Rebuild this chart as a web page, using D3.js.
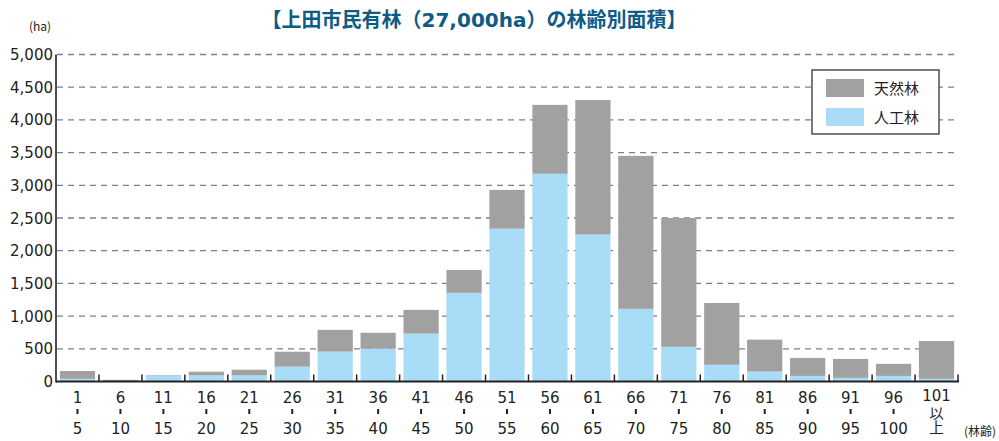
<!DOCTYPE html>
<html><head><meta charset="utf-8">
<script src="https://cdn.jsdelivr.net/npm/d3@7"></script>
<style>
body{margin:0;background:#fff;}
text{font-family:"DejaVu Sans","Noto Sans CJK JP",sans-serif;}
.cjk{font-family:"Noto Sans CJK JP",sans-serif;}
</style></head>
<body><svg id="c" width="999" height="441"></svg>
<script>
const topLabels = ["1","6","11","16","21","26","31","36","41","46","51","56","61","66","71","76","81","86","91","96","101"];
const midLabels = ["-","-","-","-","-","-","-","-","-","-","-","-","-","-","-","-","-","-","-","-","以"];
const bottomLabels = ["5","10","15","20","25","30","35","40","45","50","55","60","65","70","75","80","85","90","95","100","上"];
const planted = [40,5,90,90,90,225,455,500,730,1355,2335,3175,2245,1110,530,255,150,85,55,85,40];
const natural = [120,20,10,60,90,230,335,245,365,350,595,1055,2060,2340,1970,945,490,275,290,185,580];
const yTicks = [0,500,1000,1500,2000,2500,3000,3500,4000,4500,5000];
const seriesNames = ["天然林","人工林"];
const colors = {natural:"#a0a1a0", planted:"#a9dcf7"};

const svg = d3.select("#c");
const mLeft = 56, mRight = 958, mBottom = 381.5, mTop = 54.5;
const x = d3.scaleBand().domain(topLabels).range([mLeft, mRight]).paddingInner(0.18).paddingOuter(0.09);
const y = d3.scaleLinear().domain([0,5000]).range([mBottom, mTop]);

// title
svg.append("text").attr("x",474).attr("y",27).attr("text-anchor","middle")
  .attr("font-size",20).attr("font-weight","bold").attr("fill","#0e5b86")
  .text("【上田市民有林（27,000ha）の林齢別面積】");
svg.append("text").attr("class","cjk").attr("x",40).attr("y",31).attr("text-anchor","middle")
  .attr("font-size",12).attr("fill","#222").text("(ha)");

// grid
svg.append("g").selectAll("line").data(yTicks.filter(d=>d>0)).join("line")
  .attr("x1",mLeft+1).attr("x2",mRight).attr("y1",d=>y(d)).attr("y2",d=>y(d))
  .attr("stroke","#808080").attr("stroke-width",1.3).attr("stroke-dasharray","6,5");

// y labels
svg.append("g").selectAll("text").data(yTicks).join("text")
  .attr("x",53).attr("y",d=>y(d)+5.5).attr("text-anchor","end")
  .attr("font-size",15).attr("fill","#222").text(d=>d3.format(",")(d));

// bars
const g = svg.append("g");
topLabels.forEach((c,i)=>{
  g.append("rect").attr("x",x(c)).attr("width",x.bandwidth())
    .attr("y",y(planted[i]+natural[i])).attr("height",y(planted[i])-y(planted[i]+natural[i]))
    .attr("fill",colors.natural);
  g.append("rect").attr("x",x(c)).attr("width",x.bandwidth())
    .attr("y",y(planted[i])).attr("height",mBottom-y(planted[i]))
    .attr("fill",colors.planted);
});

// axes
svg.append("line").attr("x1",mLeft).attr("x2",mLeft).attr("y1",mTop).attr("y2",mBottom+1)
  .attr("stroke","#222").attr("stroke-width",1.6);
svg.append("line").attr("x1",mLeft).attr("x2",mRight+1).attr("y1",mBottom).attr("y2",mBottom)
  .attr("stroke","#222").attr("stroke-width",2);
const step = x.step();
svg.append("g").selectAll("line").data(d3.range(1, topLabels.length+1)).join("line")
  .attr("x1",i=>mLeft+i*step).attr("x2",i=>mLeft+i*step)
  .attr("y1",mBottom-7).attr("y2",mBottom)
  .attr("stroke","#222").attr("stroke-width",1.5);

// x labels
const cx = c => x(c)+x.bandwidth()/2;
const isNum = s => /[0-9]/.test(s);
svg.append("g").selectAll("text").data(topLabels).join("text")
  .attr("x",cx).attr("y",(c,i)=>isNum(bottomLabels[i])?403:401).attr("text-anchor","middle")
  .attr("font-size",15).attr("fill","#222").text(d=>d);
topLabels.forEach((c,i)=>{
  if (midLabels[i]==="-") {
    svg.append("rect").attr("x",cx(c)-1).attr("y",409).attr("width",2).attr("height",5).attr("fill","#222");
    svg.append("text").attr("x",cx(c)).attr("y",434).attr("text-anchor","middle")
      .attr("font-size",15).attr("fill","#222").text(bottomLabels[i]);
  } else {
    // stacked vertical text (e.g. 以上)
    svg.append("text").attr("class","cjk").attr("x",cx(c)).attr("y",406)
      .attr("writing-mode","tb").attr("font-size",14.5).attr("fill","#222")
      .text(midLabels[i] + bottomLabels[i]);
  }
});
svg.append("text").attr("class","cjk").attr("x",980).attr("y",436).attr("text-anchor","middle")
  .attr("font-size",12).attr("fill","#222").text("(林齢)");

// legend
svg.append("rect").attr("x",812).attr("y",70).attr("width",127).attr("height",64)
  .attr("fill","#fff").attr("stroke","#333").attr("stroke-width",1.3);
[[colors.natural,79,seriesNames[0]],[colors.planted,108,seriesNames[1]]].forEach(([col,yy,t])=>{
  svg.append("rect").attr("x",826).attr("y",yy).attr("width",38).attr("height",18).attr("fill",col);
  svg.append("text").attr("class","cjk").attr("x",874).attr("y",yy+14.5).attr("font-size",15).attr("fill","#222").text(t);
});
</script></body></html>
